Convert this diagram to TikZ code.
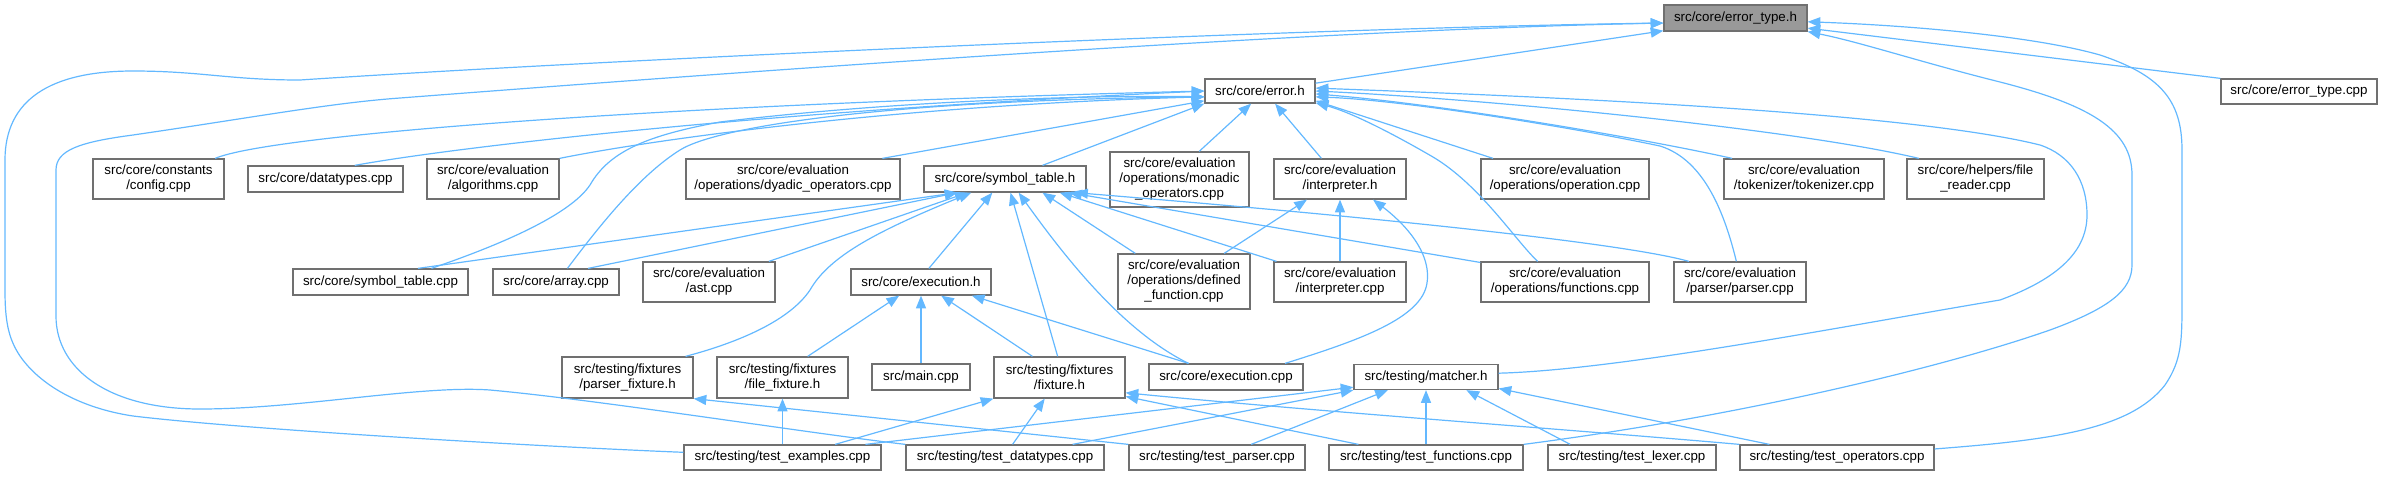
\documentclass[tikz,border=0pt]{standalone}
\usepackage{fontspec}
\setmainfont{Liberation Sans}
\usetikzlibrary{arrows.meta}
\definecolor{edgeblue}{HTML}{63B8FF}
\definecolor{boxgray}{HTML}{707070}
\definecolor{rootfill}{HTML}{999999}
\begin{document}
\begin{tikzpicture}[x=0.75pt,y=-0.75pt,
  box/.style={draw=boxgray, line width=0.95pt, fill=white, inner sep=0pt, align=center, font=\fontsize{10}{11.25}\selectfont},
  rootbox/.style={box, fill=rootfill},
  wh/.style n args={2}{minimum width=#1*0.75pt, minimum height=#2*0.75pt},
  dep/.style={draw=edgeblue, line width=0.9pt, -{Triangle[length=9.5pt,width=7.5pt]}}
]
\useasboundingbox (0,0) rectangle (2382,476);

% row 1
\node[rootbox, wh={143}{26}] (et) at (1735.5,18) {src/core/error\_type.h};
% row 1b
\node[box, wh={156}{25}] (etc) at (2299,91.5) {src/core/error\_type.cpp};
\node[box, wh={110}{24}] (err) at (1260,91) {src/core/error.h};
% row 2
\node[box, wh={131}{40}] (cfg) at (158.5,179) {src/core/constants\\/config.cpp};
\node[box, wh={155}{26}] (dt) at (325.5,179) {src/core/datatypes.cpp};
\node[box, wh={132}{40}] (alg) at (493,179) {src/core/evaluation\\/algorithms.cpp};
\node[box, wh={214}{40}] (dy) at (793,179) {src/core/evaluation\\/operations/dyadic\_operators.cpp};
\node[box, wh={162}{26}] (sth) at (1005,179) {src/core/symbol\_table.h};
\node[box, wh={139}{55}] (mon) at (1179.5,179.5) {src/core/evaluation\\/operations/monadic\\\_operators.cpp};
\node[box, wh={132}{40}] (ih) at (1340,179) {src/core/evaluation\\/interpreter.h};
\node[box, wh={168}{40}] (op) at (1565,179) {src/core/evaluation\\/operations/operation.cpp};
\node[box, wh={160}{40}] (tok) at (1804,179) {src/core/evaluation\\/tokenizer/tokenizer.cpp};
\node[box, wh={137}{40}] (fr) at (1975.5,179) {src/core/helpers/file\\\_reader.cpp};
% row 3
\node[box, wh={175}{26}] (stc) at (380.5,282) {src/core/symbol\_table.cpp};
\node[box, wh={126}{26}] (arr) at (556,282) {src/core/array.cpp};
\node[box, wh={132}{40}] (ast) at (709,282) {src/core/evaluation\\/ast.cpp};
\node[box, wh={140}{26}] (exh) at (921,282) {src/core/execution.h};
\node[box, wh={132}{55}] (df) at (1184,281.5) {src/core/evaluation\\/operations/defined\\\_function.cpp};
\node[box, wh={132}{40}] (ic) at (1340,282) {src/core/evaluation\\/interpreter.cpp};
\node[box, wh={168}{40}] (fn) at (1565,282) {src/core/evaluation\\/operations/functions.cpp};
\node[box, wh={132}{40}] (pc) at (1740,282) {src/core/evaluation\\/parser/parser.cpp};
% row 4
\node[box, wh={131}{41}] (pf) at (627.5,377.5) {src/testing/fixtures\\/parser\_fixture.h};
\node[box, wh={131}{41}] (ff) at (782.5,377.5) {src/testing/fixtures\\/file\_fixture.h};
\node[box, wh={98}{26}] (mc) at (921,377) {src/main.cpp};
\node[box, wh={131}{41}] (fx) at (1059.5,377.5) {src/testing/fixtures\\/fixture.h};
\node[box, wh={154}{26}] (exc) at (1226,377) {src/core/execution.cpp};
\node[box, wh={144}{25}] (mt) at (1426,377) {src/testing/matcher.h};
% row 5
\node[box, wh={197}{25}] (tex) at (782.5,457.5) {src/testing/test\_examples.cpp};
\node[box, wh={198}{25}] (tdt) at (1005,457.5) {src/testing/test\_datatypes.cpp};
\node[box, wh={176}{25}] (tp) at (1217,457.5) {src/testing/test\_parser.cpp};
\node[box, wh={194}{25}] (tf) at (1426,457.5) {src/testing/test\_functions.cpp};
\node[box, wh={168}{25}] (tl) at (1632,457.5) {src/testing/test\_lexer.cpp};
\node[box, wh={194}{25}] (tops) at (1837,457.5) {src/testing/test\_operators.cpp};

% ---- edges to error_type.h
\draw[dep] (err.8) -- (et.-170);
\draw[dep] (etc.north west) -- (et.-8);
\draw[dep] (tops.5) .. controls (2050,440) and (2130,430) .. (2165,385)
  .. controls (2182,360) and (2182,340) .. (2182,300) -- (2182,150)
  .. controls (2182,100) and (2160,75) .. (2100,55)
  .. controls (2030,35) and (1900,25) .. (et.-3);
\draw[dep] (tf.north east) .. controls (1750,415) and (1950,365) .. (2050,330)
  .. controls (2110,308) and (2132,290) .. (2132,265) -- (2132,175)
  .. controls (2132,130) and (2090,105) .. (2000,82)
  .. controls (1920,62) and (1860,42) .. (et.south east);
\draw[dep] (tex.177) .. controls (550,447) and (250,430) .. (133,416)
  .. controls (80,408) and (40,385) .. (20,356)
  .. controls (8,338) and (5,320) .. (5,290) -- (5,160)
  .. controls (5,100) and (50,71) .. (133,71)
  .. controls (200,71) and (230,80) .. (300,80)
  .. controls (600,60) and (1300,28) .. (et.-176);
\draw[dep] (tdt.north west) .. controls (800,432) and (600,400) .. (490,390)
  .. controls (420,385) and (300,409) .. (200,409)
  .. controls (110,409) and (56,370) .. (56,316) -- (56,170)
  .. controls (56,150) and (80,142) .. (133,135)
  .. controls (250,118) and (330,103) .. (400,98)
  .. controls (700,75) and (1300,30) .. (et.-176);

% ---- edges to error.h
\draw[dep] (cfg.20) .. controls (270,135) and (650,105) .. (err.west);
\draw[dep] (dt.25) .. controls (450,148) and (750,112) .. (err.west);
\draw[dep] (alg.north east) .. controls (650,140) and (900,105) .. (err.-174);
\draw[dep] (stc.15) .. controls (500,245) and (570,215) .. (590,185)
  .. controls (610,150) and (650,135) .. (720,122)
  .. controls (900,100) and (1100,95) .. (err.-174);
\draw[dep] (arr.50) .. controls (600,225) and (640,175) .. (680,150)
  .. controls (720,125) and (900,100) .. (err.-174);
\draw[dep] (dy.13) -- (err.-170);
\draw[dep] (sth.20) -- (err.south west);
\draw[dep] (mon.55) -- (err.-125);
\draw[dep] (ih.132) -- (err.-40);
\draw[dep] (op.164) -- (err.-10);
\draw[dep] (fn.143) .. controls (1515,240) and (1480,185) .. (1433,157)
  .. controls (1390,132) and (1350,112) .. (err.-12);
\draw[dep] (pc.100) .. controls (1725,215) and (1705,160) .. (1660,146)
  .. controls (1560,125) and (1400,100) .. (err.-6);
\draw[dep] (tok.164) .. controls (1650,140) and (1450,105) .. (err.-3);
\draw[dep] (fr.160) .. controls (1800,130) and (1500,100) .. (err.east);
\draw[dep] (mt.3) .. controls (1620,370) and (1850,325) .. (2000,300)
  .. controls (2060,278) and (2087,250) .. (2087,215)
  .. controls (2087,180) and (2070,155) .. (2040,145)
  .. controls (1900,110) and (1500,95) .. (err.3);

% ---- edges to symbol_table.h
\draw[dep] (stc.20) -- (sth.-164);
\draw[dep] (arr.23) -- (sth.-164);
\draw[dep] (ast.19) -- (sth.-160);
\draw[dep] (pf.20) .. controls (740,342) and (790,320) .. (810,290)
  .. controls (830,255) and (880,230) .. (sth.-158);
\draw[dep] (exh.60) -- (sth.-133);
\draw[dep] (fx.95) -- (sth.-68);
\draw[dep] (exc.160) .. controls (1120,330) and (1060,250) .. (sth.-45);
\draw[dep] (df.150) -- (sth.-20);
\draw[dep] (ic.162) -- (sth.-14);
\draw[dep] (fn.167) -- (sth.-12);
\draw[dep] (pc.158) .. controls (1620,242) and (1350,215) .. (sth.-11);

% ---- edges to execution.h
\draw[dep] (ff.40) -- (exh.-148);
\draw[dep] (mc.north) -- (exh.south);
\draw[dep] (fx.142) -- (exh.-34);
\draw[dep] (exc.160) -- (exh.-15);

% ---- edges to interpreter.h
\draw[dep] (df.35) -- (ih.-148);
\draw[dep] (ic.north) -- (ih.south);
\draw[dep] (exc.13) .. controls (1360,340) and (1422,318) .. (1427,283)
  .. controls (1432,250) and (1400,220) .. (ih.-32);

% ---- edges to fixtures
\draw[dep] (tp.north west) -- (pf.south east);
\draw[dep] (tex.north) -- (ff.south);
\draw[dep] (tex.14) -- (fx.south west);
\draw[dep] (tdt.60) -- (fx.-125);
\draw[dep] (tf.169) -- (fx.-16);
\draw[dep] (tops.north west) .. controls (1600,432) and (1300,410) .. (fx.-13);

% ---- edges to matcher.h
\draw[dep] (tf.north) -- (mt.south);
\draw[dep] (tp.21) -- (mt.-161);
\draw[dep] (tl.168) -- (mt.-18);
\draw[dep] (tops.169) -- (mt.-9);
\draw[dep] (tdt.11) -- (mt.south west);
\draw[dep] (tex.9) -- (mt.-172);
\end{tikzpicture}
\end{document}
